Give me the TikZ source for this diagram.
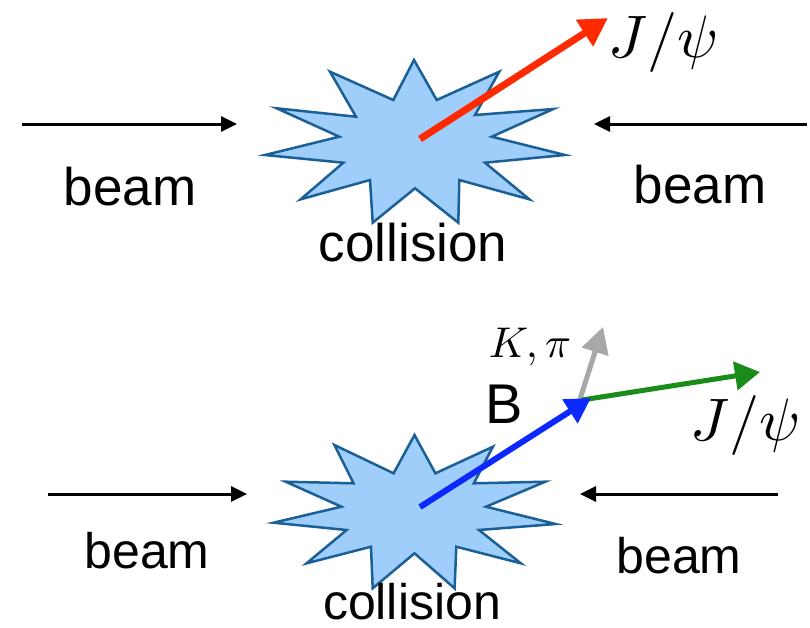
\documentclass[tikz,border=0pt]{standalone}
\usepackage{graphicx}
\usepackage{fontspec}
\setmainfont{Liberation Sans}
\usetikzlibrary{arrows.meta}
\definecolor{starfill}{RGB}{160,206,250}
\definecolor{starline}{RGB}{26,95,150}
\definecolor{jred}{RGB}{255,42,0}
\definecolor{bblue}{RGB}{10,40,255}
\definecolor{jgreen}{RGB}{26,140,26}
\definecolor{kgray}{RGB}{168,168,168}
\tikzset{
  star/.style={fill=starfill,draw=starline,line width=2.5pt,line join=miter},
  beamarrow/.style={line width=3pt,-{Triangle[length=16pt,width=15pt]}},
  lbl/.style={inner sep=0pt,anchor=base,font=\fontsize{53}{53}\selectfont},
  lblsmall/.style={inner sep=0pt,anchor=base,font=\fontsize{50}{50}\selectfont},
  mathlbl/.style={inner sep=0pt},
}
\begin{document}
\begin{tikzpicture}[x=1pt,y=-1pt]
\useasboundingbox (0,0) rectangle (810,627);
% ---------- top ----------
\draw[star] (414,60) -- (436.7,100) -- (499.3,71.7) -- (475,115) -- (553.3,109) -- (491.7,136.7)
  -- (565,155) -- (485,162.7) -- (529.3,199.3) -- (459.3,180) -- (458.3,222.7) -- (415,188.3)
  -- (372.7,222.7) -- (370,180) -- (300.7,199.3) -- (343.3,162.7) -- (265,155) -- (339.3,136.7)
  -- (276.7,108.3) -- (356,116.7) -- (330,71.7) -- (393.3,100) -- cycle;
\coordinate (c1) at (420,139);
\coordinate (j1) at (608,18);
\draw[line width=7pt,jred,-{Triangle[length=28pt,width=30pt]}] (c1) -- (j1);
\node[mathlbl] (jpsi1) at (664,42) {\scalebox{6}{$J/\psi$}};

\coordinate (bl1s) at (22,124);
\coordinate (bl1e) at (237,124);
\draw[beamarrow] (bl1s) -- (bl1e);
\coordinate (br1s) at (807,124);
\coordinate (br1e) at (594,124);
\draw[beamarrow] (br1s) -- (br1e);
\node[lbl] (beamL1) at (130,205) {beam};
\node[lbl] (beamR1) at (700,203) {beam};
\node[lbl] (coll1) at (413,261) {collision};

% ---------- bottom ----------
\draw[star] (414.5,435) -- (435.4,473.3) -- (492.9,446.7) -- (473.8,483.3) -- (545.2,481.7)
  -- (486,506.7) -- (555.6,524) -- (479,530) -- (520.8,563.3) -- (456.3,546.7) -- (454.6,588.3)
  -- (414.5,553.3) -- (372.7,588.3) -- (371,546.7) -- (306.6,563.3) -- (346.6,530)
  -- (273.5,522.7) -- (341.4,506.7) -- (285.7,481.7) -- (353.6,483.3) -- (334.4,445)
  -- (393.6,473.3) -- cycle;
\coordinate (c2) at (420,507);
\coordinate (bdec) at (591,398);
\coordinate (gstart) at (582,400);
\coordinate (gend) at (760,372);
\coordinate (kstart) at (580,399);
\coordinate (kend) at (603,327);
\draw[line width=5pt,kgray,-{Triangle[length=26pt,width=27pt]}] (kstart) -- (kend);
\draw[line width=5pt,jgreen,-{Triangle[length=25pt,width=28pt]}] (gstart) -- (gend);
\draw[line width=6pt,bblue,-{Triangle[length=25pt,width=27pt]}] (c2) -- (bdec);
\node[mathlbl] (kpi) at (530,347) {\scalebox{4.3}{$K,\pi$}};
\node[inner sep=0pt,anchor=base,font=\fontsize{56}{56}\selectfont] (B) at (504,423) {B};
\node[mathlbl] (jpsi2) at (746,425) {\scalebox{6}{$J/\psi$}};

\coordinate (bl2s) at (48,494);
\coordinate (bl2e) at (247,494);
\draw[beamarrow] (bl2s) -- (bl2e);
\coordinate (br2s) at (778,494);
\coordinate (br2e) at (580,494);
\draw[beamarrow] (br2s) -- (br2e);
\node[lblsmall] (beamL2) at (147,568) {beam};
\node[lblsmall] (beamR2) at (679,573) {beam};
\node[lblsmall] (coll2) at (412,619) {collision};
\end{tikzpicture}
\end{document}
